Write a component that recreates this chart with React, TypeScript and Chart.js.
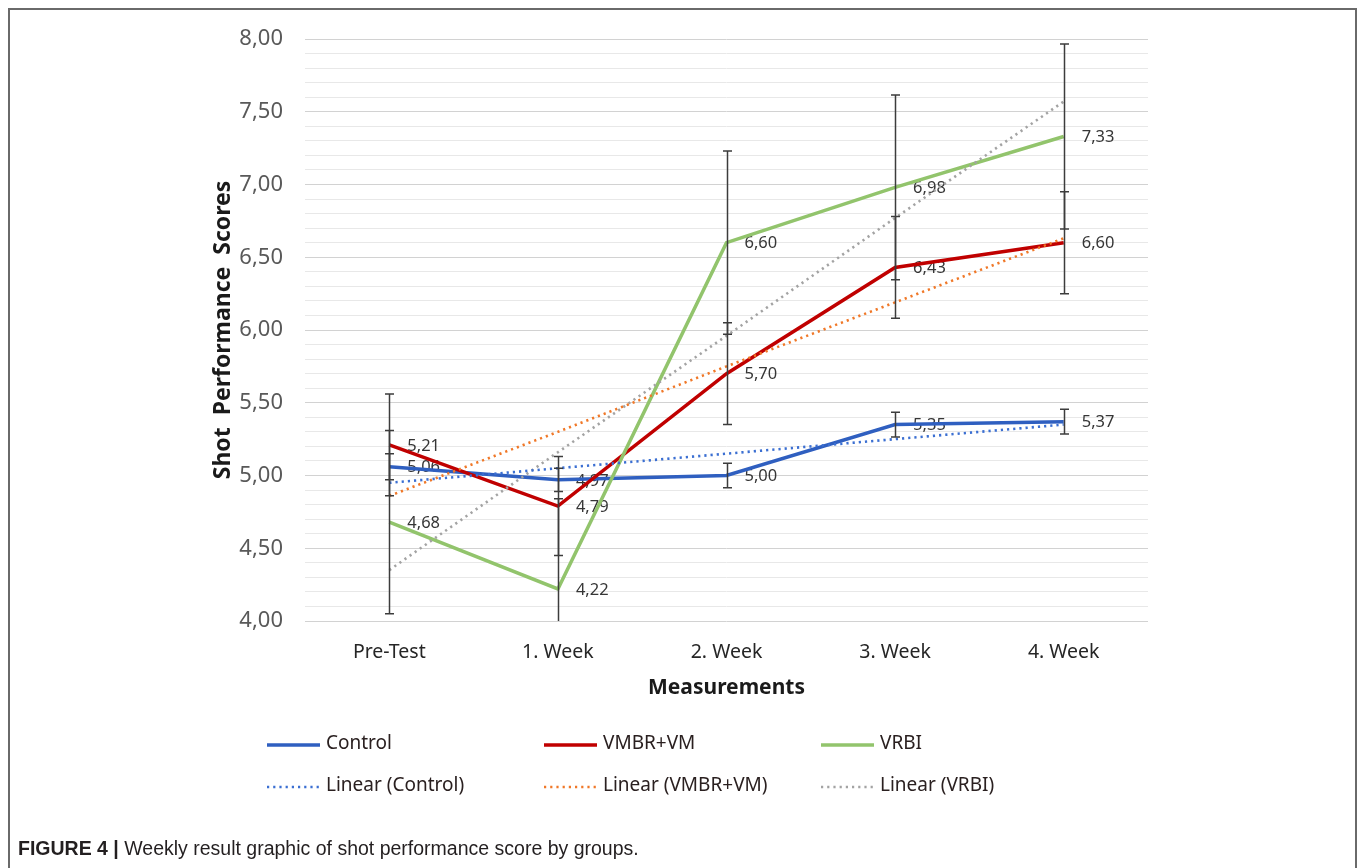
import React, { useEffect, useRef } from "react";
import { Chart, registerables } from "chart.js";

Chart.register(...registerables);

// ---------- data ----------
const categories = ["Pre-Test", "1. Week", "2. Week", "3. Week", "4. Week"];
const controlScores = [5.06, 4.97, 5.0, 5.35, 5.37];
const vmbrScores = [5.21, 4.79, 5.7, 6.43, 6.6];
const vrbiScores = [4.68, 4.22, 6.6, 6.98, 7.33];
const controlErrors = [0.09, 0.08, 0.085, 0.085, 0.085];
const vmbrErrors = [0.35, 0.34, 0.35, 0.35, 0.35];
const vrbiErrors = [0.63, 0.62, 0.63, 0.635, 0.635];
const controlTrend = [4.95, 5.05, 5.15, 5.25, 5.35];
const vmbrTrend = [4.86, 5.3, 5.75, 6.19, 6.63];
const vrbiTrend = [4.35, 5.16, 5.96, 6.77, 7.57];
const yMajorTicks = [4.0, 4.5, 5.0, 5.5, 6.0, 6.5, 7.0, 7.5, 8.0];
const seriesNames = ["Control", "VMBR+VM", "VRBI"];
const trendNames = ["Linear (Control)", "Linear (VMBR+VM)", "Linear (VRBI)"];

// ---------- styles ----------
const C_CONTROL = "#2f5fc0";
const C_VMBR = "#c00000";
const C_VRBI = "#92c46c";
const C_T_CONTROL = "#3b6fd2";
const C_T_VMBR = "#f07828";
const C_T_VRBI = "#a3a3a3";
const FONT = '"Noto Sans", "Open Sans", sans-serif';
const TREND_DASH = [2.2, 4];

const fmt = (v: number) => v.toFixed(2).replace(".", ",");
const isMajor = (v: number) => yMajorTicks.some((m) => Math.abs(m - v) < 1e-6);

const mainSeries = [
  { values: controlScores, errors: controlErrors },
  { values: vmbrScores, errors: vmbrErrors },
  { values: vrbiScores, errors: vrbiErrors },
];

const legendItems = [
  { label: seriesNames[0], color: C_CONTROL, dotted: false },
  { label: seriesNames[1], color: C_VMBR, dotted: false },
  { label: seriesNames[2], color: C_VRBI, dotted: false },
  { label: trendNames[0], color: C_T_CONTROL, dotted: true },
  { label: trendNames[1], color: C_T_VMBR, dotted: true },
  { label: trendNames[2], color: C_T_VRBI, dotted: true },
];

const overlayPlugin = {
  id: "overlay",
  beforeDatasetsDraw(chart: any) {
    const { ctx, scales } = chart;
    const xs = scales.x;
    const ys = scales.y;
    ctx.save();
    ctx.font = `16.5px ${FONT}`;
    ctx.fillStyle = "#363636";
    ctx.textAlign = "left";
    ctx.textBaseline = "middle";
    mainSeries.forEach((s) => {
      s.values.forEach((v, i) => {
        const x = xs.getPixelForValue(i);
        const y = ys.getPixelForValue(v);
        ctx.fillText(fmt(v), x + 18, y + 1);
      });
    });
    ctx.restore();
  },
  afterDatasetsDraw(chart: any) {
    const { ctx, scales, chartArea } = chart;
    const xs = scales.x;
    const ys = scales.y;
    ctx.save();
    ctx.strokeStyle = "#3c3c3c";
    ctx.lineWidth = 1.5;
    mainSeries.forEach((s) => {
      s.values.forEach((v, i) => {
        const x = Math.round(xs.getPixelForValue(i)) + 0.5;
        const yTopRaw = ys.getPixelForValue(v + s.errors[i]);
        const yBotRaw = ys.getPixelForValue(v - s.errors[i]);
        const yTop = Math.max(yTopRaw, chartArea.top);
        const yBot = Math.min(yBotRaw, chartArea.bottom);
        ctx.beginPath();
        ctx.moveTo(x, yTop);
        ctx.lineTo(x, yBot);
        if (yTopRaw >= chartArea.top) {
          ctx.moveTo(x - 4.5, yTopRaw);
          ctx.lineTo(x + 4.5, yTopRaw);
        }
        if (yBotRaw <= chartArea.bottom) {
          ctx.moveTo(x - 4.5, yBotRaw);
          ctx.lineTo(x + 4.5, yBotRaw);
        }
        ctx.stroke();
      });
    });
    ctx.restore();
  },
  afterDraw(chart: any) {
    const { ctx } = chart;
    const colX = [267, 544, 821];
    const rowY = [745, 787];
    ctx.save();
    ctx.font = `19px ${FONT}`;
    ctx.textAlign = "left";
    ctx.textBaseline = "middle";
    legendItems.forEach((it, k) => {
      const x = colX[k % 3];
      const y = rowY[Math.floor(k / 3)];
      ctx.beginPath();
      ctx.strokeStyle = it.color;
      ctx.lineWidth = it.dotted ? 2.5 : 3.5;
      ctx.setLineDash(it.dotted ? TREND_DASH : []);
      ctx.lineCap = "butt";
      ctx.moveTo(x, y);
      ctx.lineTo(x + 53, y);
      ctx.stroke();
      ctx.setLineDash([]);
      ctx.fillStyle = "#2a2020";
      ctx.fillText(it.label, x + 59, y - 1);
    });
    ctx.restore();
  },
};

export default function App() {
  const canvasRef = useRef<HTMLCanvasElement | null>(null);

  useEffect(() => {
    if (!canvasRef.current) return;
    Chart.defaults.font.family = FONT;
    const lineDs = (label: string, data: number[], color: string, order: number) => ({
      label,
      data,
      borderColor: color,
      backgroundColor: color,
      borderWidth: 3.5,
      pointRadius: 0,
      tension: 0,
      order,
    });
    const trendDs = (label: string, data: number[], color: string) => ({
      label,
      data,
      borderColor: color,
      backgroundColor: color,
      borderWidth: 2.6,
      borderDash: TREND_DASH,
      pointRadius: 0,
      tension: 0,
      order: 0,
    });
    const chart = new Chart(canvasRef.current, {
      type: "line",
      data: {
        labels: categories,
        datasets: [
          lineDs(seriesNames[0], controlScores, C_CONTROL, 3),
          lineDs(seriesNames[1], vmbrScores, C_VMBR, 2),
          lineDs(seriesNames[2], vrbiScores, C_VRBI, 1),
          trendDs(trendNames[0], controlTrend, C_T_CONTROL),
          trendDs(trendNames[1], vmbrTrend, C_T_VMBR),
          trendDs(trendNames[2], vrbiTrend, C_T_VRBI),
        ],
      },
      options: {
        responsive: false,
        animation: false,
        layout: { padding: { left: 200, top: 39, right: 212, bottom: 167 } },
        plugins: {
          legend: { display: false },
          tooltip: { enabled: false },
          title: { display: false },
        },
        scales: {
          x: {
            type: "category",
            offset: true,
            grid: { display: false, drawTicks: false },
            border: { display: false },
            ticks: {
              color: "#262626",
              font: { size: 19.5, family: FONT },
              padding: 20,
              maxRotation: 0,
              autoSkip: false,
            },
            title: {
              display: true,
              text: "Measurements",
              color: "#1a1a1a",
              font: { size: 21, weight: "bold", family: FONT },
              padding: { top: 0, bottom: 0 },
            },
            afterFit: (scale: any) => {
              scale.height = 80;
            },
          },
          y: {
            type: "linear",
            min: 4,
            max: 8,
            grid: {
              drawTicks: false,
              color: (c: any) => (c.tick && isMajor(c.tick.value) ? "#d2d2d2" : "#e8e8e8"),
              lineWidth: 1,
            },
            border: { display: false },
            ticks: {
              stepSize: 0.1,
              autoSkip: false,
              color: "#595959",
              font: { size: 22, family: FONT },
              padding: 22,
              callback: (v: any) => (isMajor(Number(v)) ? fmt(Number(v)) : ""),
            },
            title: {
              display: true,
              text: "Shot  Performance  Scores",
              color: "#1a1a1a",
              font: { size: 23, weight: "bold", family: FONT },
              padding: { top: 10, bottom: 0 },
            },
            afterFit: (scale: any) => {
              scale.width = 105;
            },
          },
        },
      },
      plugins: [overlayPlugin],
    });
    return () => chart.destroy();
  }, []);

  return (
    <div
      style={{
        position: "absolute",
        left: 0,
        top: 0,
        width: 1360,
        height: 868,
        overflow: "hidden",
        background: "#ffffff",
      }}
    >
      <div
        style={{
          position: "absolute",
          left: 8,
          top: 8,
          width: 1345,
          height: 900,
          borderTop: "2px solid #6a6a6a",
          borderLeft: "2px solid #6a6a6a",
          borderRight: "2px solid #6a6a6a",
        }}
      />
      <canvas
        ref={canvasRef}
        width={1360}
        height={868}
        style={{ position: "absolute", left: 0, top: 0, width: 1360, height: 868 }}
      />
      <div
        style={{
          position: "absolute",
          left: 18,
          top: 837,
          fontFamily: '"Liberation Sans", Arial, sans-serif',
          fontSize: 19.5,
          lineHeight: "22px",
          color: "#231f20",
          whiteSpace: "nowrap",
        }}
      >
        <b>FIGURE 4 |</b> Weekly result graphic of shot performance score by groups.
      </div>
    </div>
  );
}
